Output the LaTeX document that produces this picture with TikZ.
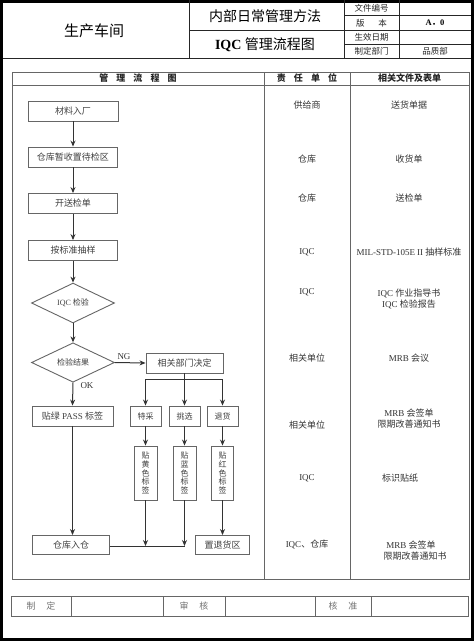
\documentclass[tikz,border=0pt]{standalone}
\usepackage{fontspec}
\setmainfont{Liberation Serif}
\newfontfamily\cjk{Noto Sans CJK SC}
\usetikzlibrary{shapes.geometric,arrows.meta}
\newcommand\zhs[1]{{\cjk #1}}
\begin{document}
\begin{tikzpicture}[x=1pt,y=-1pt,
  hdr/.style={draw=black!85, line width=0.8pt},
  tbl/.style={draw=black!60, line width=0.9pt},
  line/.style={draw=black!80, line width=1pt},
  arr/.style={line, -{Stealth[length=6pt,width=5pt]}},
  box/.style={draw=black!60, line width=0.9pt, rectangle, inner sep=0pt, font=\cjk\fontsize{9}{10}\selectfont, text=black!75},
  dia/.style={draw=black!60, line width=0.9pt, diamond, inner sep=0pt, minimum width=83pt, minimum height=32pt, font=\fontsize{8}{9}\selectfont, text=black!75},
  vbox/.style={box, align=center, minimum width=23pt, minimum height=54pt, font=\cjk\fontsize{8}{8.6}\selectfont},
  txt/.style={inner sep=0pt, font=\fontsize{9}{10}\selectfont, text=black!80, align=center},
  htxt/.style={inner sep=0pt, font=\cjk\bfseries\fontsize{9}{10}\selectfont, text=black!85},
  ftxt/.style={inner sep=0pt, font=\cjk\fontsize{9}{10}\selectfont, text=black!55}
]
\useasboundingbox (0,0) rectangle (474,641);
\fill[white] (0,0) rectangle (474,641);
% outer border
\draw[line width=3pt] (1.5,1.5) rectangle (472.5,639.5);
% header grid
\draw[hdr] (189,0) -- (189,58);
\draw[hdr] (344,0) -- (344,58);
\draw[hdr] (399,0) -- (399,58);
\draw[hdr] (3,58) -- (471,58);
\draw[hdr] (189,30) -- (344,30);
\draw[hdr] (344,15) -- (471,15);
\draw[hdr] (344,30) -- (471,30);
\draw[hdr] (344,44.7) -- (471,44.7);
\node[inner sep=0pt, font=\cjk\fontsize{15}{16}\selectfont] (h1) at (94,31) {生产车间};
\node[inner sep=0pt, font=\cjk\fontsize{14}{15}\selectfont] (h2) at (265,16) {内部日常管理方法};
\node[inner sep=0pt, font=\bfseries\fontsize{14}{15}\selectfont] (h3) at (265,45) {IQC {\cjk\mdseries 管理流程图}};
\node[htxt, font=\cjk\fontsize{8.5}{9}\selectfont] (l1) at (371.5,8) {文件编号};
\node[htxt, font=\cjk\fontsize{8.5}{9}\selectfont] (l2) at (371.5,23) {版\hspace{1.6em}本};
\node[htxt, font=\cjk\fontsize{8.5}{9}\selectfont] (l3) at (371.5,37.5) {生效日期};
\node[htxt, font=\cjk\fontsize{8.5}{9}\selectfont] (l4) at (371.5,51) {制定部门};
\node[inner sep=0pt, font=\bfseries\fontsize{8.5}{9}\selectfont] (v2) at (435,23) {A\zhs{．}0};
\node[htxt, font=\cjk\fontsize{8.5}{9}\selectfont] (v4) at (435,51) {品质部};
% main table
\draw[tbl] (12,72) rectangle (469,579);
\draw[tbl] (12,85) -- (469,85);
\draw[tbl] (264,72) -- (264,579);
\draw[tbl] (350,72) -- (350,579);
\node[htxt] (c1) at (138,78.5) {管\hspace{0.9em}理\hspace{0.9em}流\hspace{0.9em}程\hspace{0.9em}图};
\node[htxt] (c2) at (307,78.5) {责\hspace{0.9em}任\hspace{0.9em}单\hspace{0.9em}位};
\node[htxt] (c3) at (409.5,78.5) {相关文件及表单};
% flow
\node[box, minimum width=90pt, minimum height=20pt] (n1) at (73,111) {材料入厂};
\node[box, minimum width=89pt, minimum height=20pt] (n2) at (73,157) {仓库暂收置待检区};
\node[box, minimum width=89pt, minimum height=20pt] (n3) at (73,203.5) {开送检单};
\node[box, minimum width=89pt, minimum height=20pt] (n4) at (73,250.5) {按标准抽样};
\node[dia] (d1) at (73,303) {IQC \zhs{检验}};
\node[dia] (d2) at (73,362.5) {\zhs{检验结果}};
\node[box, minimum width=77pt, minimum height=20pt] (dec) at (184.5,363) {相关部门决定};
\node[box, minimum width=81pt, minimum height=20pt, font=\fontsize{9}{10}\selectfont] (pass) at (72.5,416) {\zhs{贴绿} PASS \zhs{标签}};
\node[box, minimum width=31pt, minimum height=20pt, font=\cjk\fontsize{8}{9}\selectfont] (te) at (145.5,416) {特采};
\node[box, minimum width=31pt, minimum height=20pt, font=\cjk\fontsize{8}{9}\selectfont] (tx) at (184.5,416) {挑选};
\node[box, minimum width=31pt, minimum height=20pt, font=\cjk\fontsize{8}{9}\selectfont] (th) at (222.5,416) {退货};
\node[vbox] (yl) at (145.5,473) {贴\\黄\\色\\标\\签};
\node[vbox] (bl) at (184.5,473) {贴\\蓝\\色\\标\\签};
\node[vbox, minimum width=22pt] (rd) at (222.5,473) {贴\\红\\色\\标\\签};
\node[box, minimum width=77pt, minimum height=19pt] (store) at (71,545) {仓库入仓};
\node[box, minimum width=54pt, minimum height=19pt] (ret) at (222.5,545) {置退货区};
\node[txt, font=\fontsize{9}{10}\selectfont] (ng) at (124,357) {NG};
\node[txt, font=\fontsize{9}{10}\selectfont] (ok) at (87,386) {OK};
\coordinate (split) at (184.5,379);
\coordinate (m1) at (145.5,546);
\coordinate (m2) at (184.5,546);
\draw[arr] (n1) -- (n2);
\draw[arr] (n2) -- (n3);
\draw[arr] (n3) -- (n4);
\draw[arr] (n4) -- (d1);
\draw[arr] (d1) -- (d2);
\draw[arr] (d2.east) -- (dec.west);
\draw[arr] (d2.south) -- (pass.north);
\draw[line] (dec.south) -- (split);
\draw[arr] (split) -| (te.north);
\draw[arr] (split) -| (th.north);
\draw[arr] (split) -- (tx.north);
\draw[arr] (te) -- (yl);
\draw[arr] (tx) -- (bl);
\draw[arr] (th) -- (rd);
\draw[arr] (pass.south) -- (pass.south |- store.north);
\draw[line] (store.east |- m2) -- (m2);
\draw[arr] (yl.south) -- (m1);
\draw[arr] (bl.south) -- (m2);
\draw[arr] (rd.south) -- (ret.north);
% responsibility and documents
\node[txt] (r1) at (307,105) {\zhs{供给商}};
\node[txt] (f1) at (409,105) {\zhs{送货单据}};
\node[txt] (r2) at (307,159) {\zhs{仓库}};
\node[txt] (f2) at (409,159) {\zhs{收货单}};
\node[txt] (r3) at (307,198) {\zhs{仓库}};
\node[txt] (f3) at (409,198) {\zhs{送检单}};
\node[txt] (r4) at (307,252) {IQC};
\node[txt] (f4) at (409,252) {MIL-STD-105E II \zhs{抽样标准}};
\node[txt] (r5) at (307,292) {IQC};
\node[txt] (f5) at (409,298.5) {IQC \zhs{作业指导书}\\[1pt] IQC \zhs{检验报告}};
\node[txt] (r6) at (307,358) {\zhs{相关单位}};
\node[txt] (f6) at (409,358) {MRB \zhs{会议}};
\node[txt] (r7) at (307,425) {\zhs{相关单位}};
\node[txt] (f7) at (409,418.5) {MRB \zhs{会签单}\\[1pt]\zhs{限期改善通知书}};
\node[txt] (r8) at (307,478) {IQC};
\node[txt] (f8) at (400,478) {\zhs{标识贴纸}};
\node[txt] (r9) at (307,544) {IQC\zhs{、仓库}};
\node[txt] (f9) at (411,550.5) {MRB \zhs{会签单}\\[1pt]\hspace{8pt}\zhs{限期改善通知书}};
% footer
\draw[tbl] (11,596) rectangle (468,616);
\draw[tbl] (71,596) -- (71,616);
\draw[tbl] (163,596) -- (163,616);
\draw[tbl] (225,596) -- (225,616);
\draw[tbl] (315,596) -- (315,616);
\draw[tbl] (371,596) -- (371,616);
\node[ftxt] (s1) at (41,606) {制\hspace{1.2em}定};
\node[ftxt] (s2) at (194,606) {审\hspace{1.2em}核};
\node[ftxt] (s3) at (343,606) {核\hspace{1.2em}准};
\end{tikzpicture}
\end{document}
